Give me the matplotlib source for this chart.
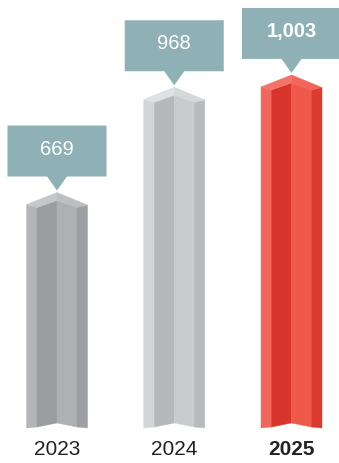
import matplotlib.pyplot as plt
from matplotlib.patches import Polygon

years = ['2023', '2024', '2025']
values = [669, 968, 1003]
labels = ['669', '968', '1,003']
highlight = [False, False, True]

# face colours: left narrow, left main, right main, right narrow, cap left, cap right
palettes = [
    ['#b4b5b9', '#9c9da1', '#afb0b4', '#9e9fa3', '#c6c7ca', '#bdbec2'],
    ['#d4d5d7', '#b7b8bb', '#cacbcd', '#b9babd', '#e0e1e2', '#d6d7d9'],
    ['#f2675c', '#d8352d', '#ef5949', '#dc392f', '#f47268', '#f0665a'],
]
box_color = '#8fb1b6'

W, H = 339, 463
fig = plt.figure(figsize=(W / 100, H / 100), dpi=100)
ax = fig.add_axes([0, 0, 1, 1])
ax.axis('off')

# scale: pixels per category step and per value unit
sx = 117.25
sy = 0.352
x0_px, base_px = 57, 428
ax.set_xlim(-x0_px / sx, (W - x0_px) / sx)
ax.set_ylim(-(H - base_px) / sy, base_px / sy)

half, narrow = 30.5, 10.5
inner = half - narrow


def prism(i, v, cols):
    X = lambda d: i + d / sx
    Y = lambda d: v - d / sy      # d = pixels below the peak
    B = lambda d: 0 + d / sy      # d = pixels above the baseline
    faces = [
        [(X(-half), Y(12)), (X(-inner), Y(15)), (X(-inner), B(1)), (X(-half), B(0))],
        [(X(-inner), Y(15)), (X(0), Y(8)), (X(0), B(5)), (X(-inner), B(1))],
        [(X(0), Y(8)), (X(inner), Y(15)), (X(inner), B(1)), (X(0), B(5))],
        [(X(inner), Y(15)), (X(half), Y(12.5)), (X(half), B(0)), (X(inner), B(1))],
        [(X(-half), Y(12)), (X(0), Y(0)), (X(0), Y(8)), (X(-inner), Y(15))],
        [(X(0), Y(0)), (X(half), Y(12.5)), (X(inner), Y(15)), (X(0), Y(8))],
    ]
    for f, c in zip(faces, cols):
        ax.add_patch(Polygon(f, closed=True, fc=c, ec=c, lw=0.3))


def callout(i, v, text, bold):
    X = lambda d: i + d / sx
    Y = lambda d: v + d / sy
    bw = 49.5
    tip, bot, top = 2, 16, 67
    pts = [(X(-bw), Y(top)), (X(bw), Y(top)), (X(bw), Y(bot)), (X(10), Y(bot)),
           (X(0), Y(tip)), (X(-10), Y(bot)), (X(-bw), Y(bot))]
    ax.add_patch(Polygon(pts, closed=True, fc=box_color, ec='none'))
    ax.text(i, Y((top + bot) / 2 + 2), text, ha='center', va='center',
            color='white', fontsize=14.5, family='Liberation Sans',
            fontweight='bold' if bold else 'normal')


for i, (v, lab, yr, hl) in enumerate(zip(values, labels, years, highlight)):
    prism(i, v, palettes[i])
    callout(i, v, lab, hl)
    ax.text(i, -27 / sy, yr, ha='center', va='baseline', color='#222222',
            fontsize=15, family='Liberation Sans',
            fontweight='bold' if hl else 'normal')

fig.savefig('out.png', dpi=100)
